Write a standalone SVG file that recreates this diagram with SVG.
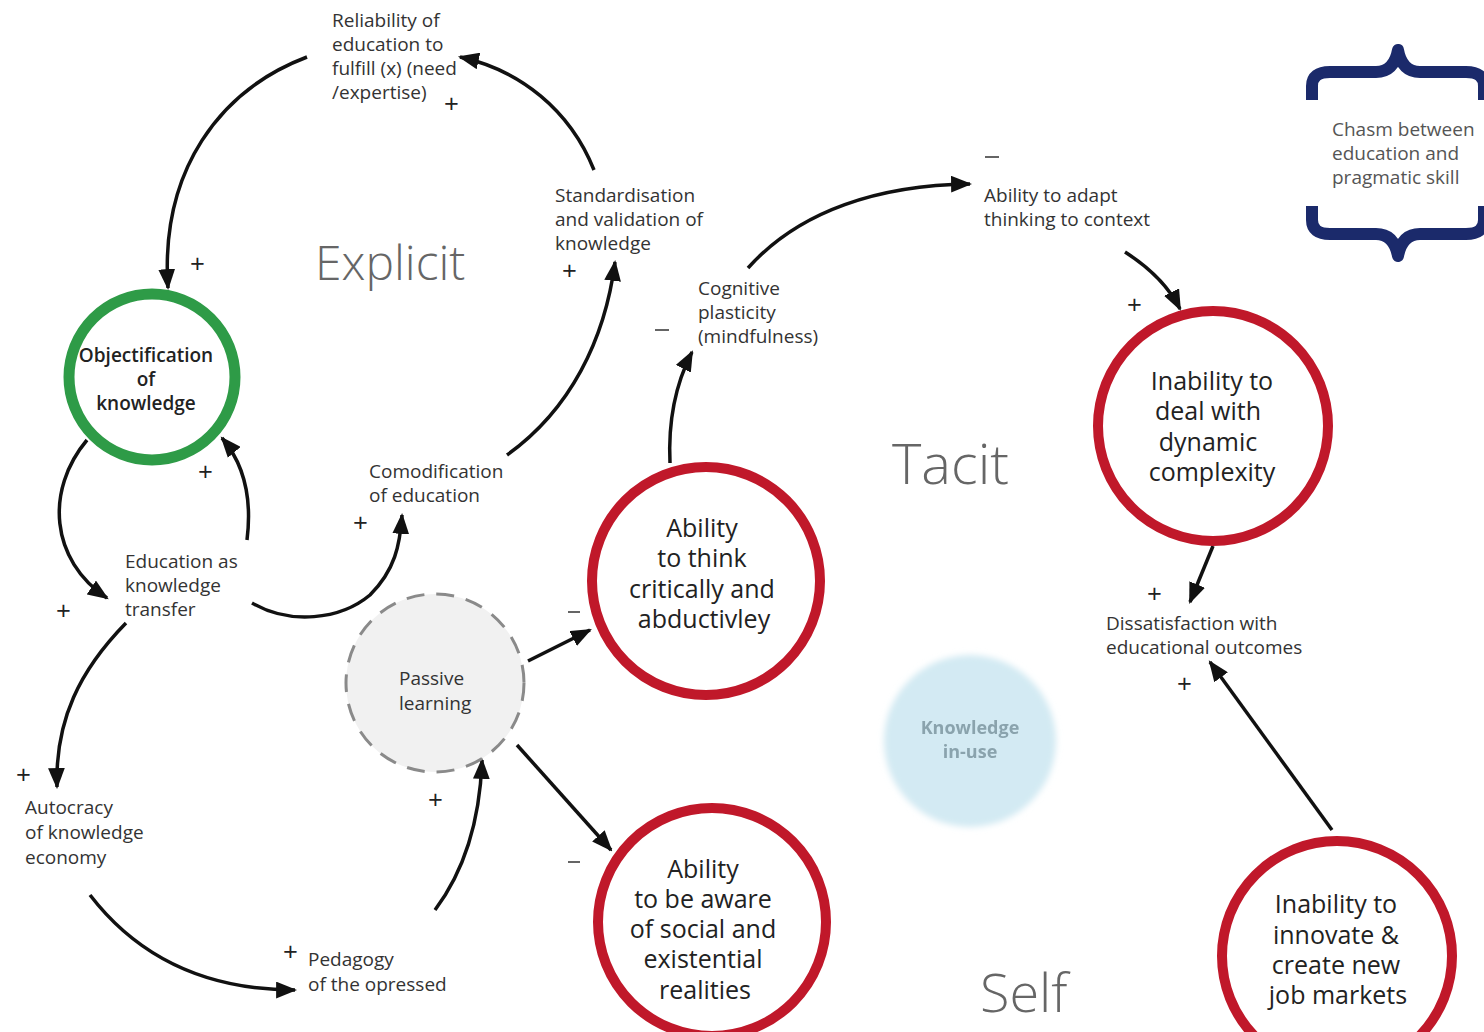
<svg xmlns="http://www.w3.org/2000/svg" width="1484" height="1032" viewBox="0 0 1484 1032">
  <defs>
    <marker id="arrow" viewBox="0 0 20 16" refX="18" refY="8" markerWidth="21" markerHeight="17" markerUnits="userSpaceOnUse" orient="auto">
      <path d="M0,0 L20,8 L0,16 Z" fill="#111"/>
    </marker>
    <filter id="soft" x="-20%" y="-20%" width="140%" height="140%">
      <feGaussianBlur stdDeviation="3"/>
    </filter>
    <filter id="softText" x="-10%" y="-30%" width="120%" height="160%">
      <feGaussianBlur stdDeviation="0.6"/>
    </filter>
    <style>
      text { font-family: "Open Sans", "Liberation Sans", sans-serif; fill: #333; }
      .lbl { font-size: 19px; font-weight: 400; }
      .sign { font-size: 26px; fill: #222; }
      .region { font-weight: 300; fill: #666; }
      .big { font-size: 25px; fill: #222; text-anchor: middle; }
      .red { fill: none; stroke: #c0182a; stroke-width: 10; }
      .link { fill: none; stroke: #111; stroke-width: 3.5; marker-end: url(#arrow); }
      .brace { fill: none; stroke: #1b2a6b; stroke-width: 12; stroke-linejoin: round; }
    </style>
  </defs>

  <rect width="1484" height="1032" fill="#fff"/>

  <!-- region captions -->
  <text class="region" x="315" y="280" font-size="48">Explicit</text>
  <text class="region" x="892" y="484" font-size="56">Tacit</text>
  <text class="region" x="980" y="1012" font-size="54">Self</text>

  <!-- chasm brace -->
  <g id="chasm">
    <path class="brace" d="M1312,100 L1312,86 Q1312,72 1330,72 L1376,72 Q1394,72 1398,50 Q1402,72 1420,72 L1466,72 Q1484,72 1484,86 L1484,100"/>
    <path class="brace" d="M1312,206 L1312,220 Q1312,234 1330,234 L1376,234 Q1394,234 1398,256 Q1402,234 1420,234 L1466,234 Q1484,234 1484,220 L1484,206"/>
    <text class="lbl" x="1332" y="136" style="fill:#555">Chasm between</text>
    <text class="lbl" x="1332" y="160" style="fill:#555">education and</text>
    <text class="lbl" x="1332" y="184" style="fill:#555">pragmatic skill</text>
  </g>

  <!-- connectors -->
  <g id="connectors">
    <path class="link" d="M307,57 C220,90 160,170 168,288"/>
    <path class="link" d="M594,170 C570,110 520,70 460,57"/>
    <path class="link" d="M507,455 C570,410 605,340 615,262"/>
    <path class="link" d="M252,603 C290,625 340,620 370,595 C395,570 400,545 402,515"/>
    <path class="link" d="M87,440 C45,490 50,560 107,598"/>
    <path class="link" d="M247,540 C252,500 245,465 222,438"/>
    <path class="link" d="M126,623 C80,670 55,720 57,787"/>
    <path class="link" d="M90,895 C140,960 210,990 295,990"/>
    <path class="link" d="M435,910 C465,870 480,820 482,760"/>
    <path class="link" d="M528,661 L590,630"/>
    <path class="link" d="M517,745 L611,850"/>
    <path class="link" d="M670,463 C668,420 675,385 692,352"/>
    <path class="link" d="M748,268 C800,210 880,185 970,184"/>
    <path class="link" d="M1125,252 C1150,268 1168,285 1180,309"/>
    <path class="link" d="M1213,546 L1190,602"/>
    <path class="link" d="M1332,830 L1210,662"/>
  </g>

  <!-- polarity signs -->
  <g id="signs">
    <text class="sign" x="444" y="113">+</text>
    <text class="sign" x="562" y="280">+</text>
    <text class="sign" x="190" y="273">+</text>
    <text class="sign" x="198" y="481">+</text>
    <text class="sign" x="353" y="532">+</text>
    <text class="sign" x="56" y="620">+</text>
    <text class="sign" x="16" y="784">+</text>
    <text class="sign" x="283" y="961">+</text>
    <text class="sign" x="428" y="809">+</text>
    <text class="sign" x="1127" y="314">+</text>
    <text class="sign" x="1147" y="603">+</text>
    <text class="sign" x="1177" y="693">+</text>
    <path d="M655,330 H669 M985,157 H999 M568,612 H580 M568,862 H580" stroke="#333" stroke-width="1.5"/>
  </g>

  <!-- variables -->
  <g id="reliability">
    <text class="lbl" x="332" y="27">Reliability of</text>
    <text class="lbl" x="332" y="51">education to</text>
    <text class="lbl" x="332" y="75">fulfill (x) (need</text>
    <text class="lbl" x="332" y="99">/expertise)</text>
  </g>
  <g id="standardisation">
    <text class="lbl" x="555" y="202">Standardisation</text>
    <text class="lbl" x="555" y="226">and validation of</text>
    <text class="lbl" x="555" y="250">knowledge</text>
  </g>
  <g id="cognitive-plasticity">
    <text class="lbl" x="698" y="295">Cognitive</text>
    <text class="lbl" x="698" y="319">plasticity</text>
    <text class="lbl" x="698" y="343">(mindfulness)</text>
  </g>
  <g id="adapt-thinking">
    <text class="lbl" x="984" y="202">Ability to adapt</text>
    <text class="lbl" x="984" y="226">thinking to context</text>
  </g>
  <g id="comodification">
    <text class="lbl" x="369" y="478">Comodification</text>
    <text class="lbl" x="369" y="502">of education</text>
  </g>
  <g id="education-transfer">
    <text class="lbl" x="125" y="568">Education as</text>
    <text class="lbl" x="125" y="592">knowledge</text>
    <text class="lbl" x="125" y="616">transfer</text>
  </g>
  <g id="autocracy">
    <text class="lbl" x="25" y="814">Autocracy</text>
    <text class="lbl" x="25" y="839">of knowledge</text>
    <text class="lbl" x="25" y="864">economy</text>
  </g>
  <g id="pedagogy">
    <text class="lbl" x="308" y="966">Pedagogy</text>
    <text class="lbl" x="308" y="991">of the opressed</text>
  </g>
  <g id="dissatisfaction">
    <text class="lbl" x="1106" y="630">Dissatisfaction with</text>
    <text class="lbl" x="1106" y="654">educational outcomes</text>
  </g>

  <g id="objectification">
    <circle cx="152" cy="377" r="83" fill="#fff" stroke="#2e9b47" stroke-width="11"/>
    <text x="146" y="362" font-size="19" font-weight="600" text-anchor="middle" style="fill:#222">Objectification</text>
    <text x="146" y="386" font-size="19" font-weight="600" text-anchor="middle" style="fill:#222">of</text>
    <text x="146" y="410" font-size="19" font-weight="600" text-anchor="middle" style="fill:#222">knowledge</text>
  </g>

  <g id="passive-learning">
    <circle cx="435" cy="683" r="89" fill="#f1f1f1" stroke="#8a8a8a" stroke-width="3" stroke-dasharray="18 12"/>
    <text class="lbl" x="399" y="685" font-size="21">Passive</text>
    <text class="lbl" x="399" y="710" font-size="21">learning</text>
  </g>

  <g id="knowledge-in-use">
    <circle cx="970" cy="741" r="86" fill="#d3eaf3" filter="url(#soft)"/>
    <g filter="url(#softText)">
      <text x="970" y="734" font-size="18" font-weight="700" text-anchor="middle" style="fill:#8aa3ad">Knowledge</text>
      <text x="970" y="758" font-size="18" font-weight="700" text-anchor="middle" style="fill:#8aa3ad">in-use</text>
    </g>
  </g>

  <g id="think-critically">
    <circle class="red" cx="706" cy="581" r="114" fill="#fff"/>
    <text class="big" x="702" y="537">Ability</text>
    <text class="big" x="702" y="567">to think</text>
    <text class="big" x="702" y="598">critically and</text>
    <text class="big" x="704" y="628">abductivley</text>
  </g>

  <g id="social-awareness">
    <circle class="red" cx="712" cy="922" r="114" fill="#fff"/>
    <text class="big" x="703" y="878">Ability</text>
    <text class="big" x="703" y="908">to be aware</text>
    <text class="big" x="703" y="938">of social and</text>
    <text class="big" x="703" y="968">existential</text>
    <text class="big" x="705" y="999">realities</text>
  </g>

  <g id="dynamic-complexity">
    <circle class="red" cx="1213" cy="426" r="115" fill="#fff"/>
    <text class="big" x="1212" y="390">Inability to</text>
    <text class="big" x="1208" y="420">deal with</text>
    <text class="big" x="1208" y="451">dynamic</text>
    <text class="big" x="1212" y="481">complexity</text>
  </g>

  <g id="innovate">
    <circle class="red" cx="1337" cy="956" r="115" fill="#fff"/>
    <text class="big" x="1336" y="913">Inability to</text>
    <text class="big" x="1336" y="944">innovate &amp;</text>
    <text class="big" x="1336" y="974">create new</text>
    <text class="big" x="1338" y="1004">job markets</text>
  </g>
</svg>
